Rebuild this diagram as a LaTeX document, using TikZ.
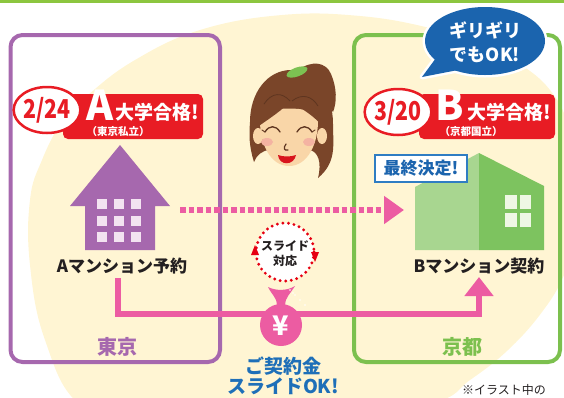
\documentclass[tikz,border=0pt]{standalone}
\usepackage{fontspec}
\setmainfont{Noto Sans CJK JP}
\usepackage{graphicx}
\usetikzlibrary{arrows.meta,shapes.geometric}

\definecolor{cream}{HTML}{FFF5D3}
\definecolor{lav}{HTML}{A668AE}
\definecolor{leaf}{HTML}{7CC04E}
\definecolor{topgreen}{HTML}{8CC63F}
\definecolor{redlab}{HTML}{E81C24}
\definecolor{rose}{HTML}{EC5CA2}
\definecolor{navy}{HTML}{1B64AE}
\definecolor{bluetext}{HTML}{1E6FB8}
\definecolor{boxblue}{HTML}{2F7DC3}
\definecolor{lightface}{HTML}{A8D690}
\definecolor{darkface}{HTML}{7DC35F}
\definecolor{glass}{HTML}{EEF7E4}
\definecolor{pane}{HTML}{F3E3F1}
\definecolor{hair}{HTML}{7A4529}
\definecolor{hairdark}{HTML}{5E3520}
\definecolor{skin}{HTML}{F9D6A8}
\definecolor{blush}{HTML}{F4B3A2}
\definecolor{lip}{HTML}{D8141C}
\definecolor{dotred}{HTML}{E60012}
\definecolor{ink}{HTML}{231F20}
\definecolor{scrunchie}{HTML}{7CC152}

\newcommand\jsize[1]{\fontsize{#1}{#1}\selectfont}

\tikzset{
  region/.style={line width=4pt, rounded corners=12pt},
  plain/.style={inner sep=0pt, outer sep=0pt},
  whitetxt/.style={plain, text=white},
  redband/.style={fill=redlab, rounded corners=5pt, minimum width=140pt, minimum height=45pt, plain},
  dateoval/.style={ellipse, draw=redlab, line width=2.5pt, fill=white, text=redlab,
                   minimum width=64pt, minimum height=46pt, inner sep=0pt},
  roomtxt/.style={plain, text=ink, font=\bfseries\jsize{17}},
  flow/.style={rose, line width=6pt},
}

\begin{document}
\begin{tikzpicture}[x=1pt, y=-1pt, font=\bfseries]
\useasboundingbox (0,0) rectangle (564,397);
\clip (0,0) rectangle (564,397);

% soft cream backdrop
\fill[cream] plot[smooth cycle, tension=0.7] coordinates {
  (282,15) (360,16) (430,28) (485,45) (520,64) (550,90) (568,125) (578,180)
  (575,235) (564,275) (542,312) (508,350) (470,380) (430,405) (300,440)
  (150,430) (80,405) (45,340) (30,265) (30,200) (42,160) (62,122) (88,95)
  (135,60) (200,30)};

% top rule
\fill[topgreen] (0,0) rectangle (564,3);

% city frames
\draw[region, lav] (10.5,35) rectangle (220,362);
\draw[region, leaf] (354,35) rectangle (560,362);
\node[plain, text=lav, font=\bfseries\jsize{20}] (tokyo) at (117,347) {東京};
\node[plain, text=leaf, font=\bfseries\jsize{20}] (kyoto) at (462,347) {京都};

% house A
\fill[lav] (120,145) -- (170,206) -- (155,206) -- (155,250) -- (85,250) -- (85,206) -- (70,206) -- cycle;
\foreach \cx in {97,114,131}
  \foreach \cy in {199,216,232}
    \fill[pane] (\cx,\cy) rectangle +(9.5,9.5);
\node[roomtxt] (amt) at (122,266) {Aマンション予約};

% building B
\fill[lightface] (415,187) -- (479,153) -- (479,250) -- (415,250) -- cycle;
\fill[darkface] (479,153) -- (544,186) -- (544,250) -- (479,250) -- cycle;
\foreach \cx/\w in {505/12,520/11}
  \foreach \cy/\h in {195/14,213/14}
    \fill[glass] (\cx,\cy) rectangle +(\w,\h);
\node[plain, draw=boxblue, line width=2pt, fill=white, text=navy,
      minimum width=92pt, minimum height=27pt, font=\bfseries\jsize{17}] (final) at (421,168.5) {最終決定!};
\node[roomtxt] (bmt) at (479,266) {Bマンション契約};

% result band A
\node[redband] (bandA) at (133,116.5) {};
\node[whitetxt, font=\bfseries\jsize{41}] (letA) at (100,105) {A};
\node[whitetxt, font=\bfseries\jsize{19}] (passA) at (157,112) {大学合格!};
\node[whitetxt, font=\bfseries\jsize{10.5}] (kindA) at (118,132) {（東京私立）};
\node[dateoval, font=\bfseries\jsize{26}] (dateA) at (47,110) {\scalebox{0.82}[1]{2/24}};

% result band B
\node[redband, minimum width=136pt] (bandB) at (487,116.5) {};
\node[whitetxt, font=\bfseries\jsize{41}] (letB) at (450,105) {B};
\node[whitetxt, font=\bfseries\jsize{19}] (passB) at (509,112) {大学合格!};
\node[whitetxt, font=\bfseries\jsize{10.5}] (kindB) at (471,132) {（京都国立）};
\node[dateoval, font=\bfseries\jsize{26}] (dateB) at (398,112) {\scalebox{0.82}[1]{3/20}};

% dotted move arrow A -> B
\coordinate (dA) at (180,210);
\coordinate (dB) at (404,210);
\draw[flow, dash pattern=on 5.5pt off 3pt, -{Triangle[width=27pt,length=20pt]}] (dA) -- (dB);

% deposit transfer line
\coordinate (sA) at (118,278);
\coordinate (hz) at (281,314);
\coordinate (tB) at (479,277);
\draw[flow, -{Triangle[width=28pt,length=19pt]}] (sA) |- (hz) -| (tB);

% slide badge
\draw[dotred, line width=3.2pt, dash pattern=on 0pt off 5.6pt, line cap=round, fill=white]
  (285,252) circle [radius=29];
\fill[dotred] (251,255) -- (259,255) -- (255,245) -- cycle;
\fill[dotred] (311,252) -- (319,252) -- (315,262) -- cycle;
\node[plain, text=ink, font=\bfseries\jsize{12}] (sl1) at (285,246) {スライド};
\node[plain, text=ink, font=\bfseries\jsize{12}] (sl2) at (285,261) {対応};

% money bag
\fill[rose] (268,287) .. controls (272,295) and (277,298) .. (277,305) -- (285,305)
  .. controls (285,298) and (290,294) .. (295,286) .. controls (287,291) and (276,291) .. (268,287) -- cycle;
\fill[rose] (281,325) circle [radius=21];
\node[whitetxt, font=\bfseries\jsize{27}] (yen) at (281,326) {¥};
\node[plain, text=bluetext, font=\bfseries\jsize{19}] (dep1) at (283,366) {ご契約金};
\node[plain, text=bluetext, font=\bfseries\jsize{19}] (dep2) at (283,386) {スライドOK!};

% speech bubble
\draw[white, line width=5pt] (485,41) ellipse [x radius=60, y radius=34];
\draw[white, line width=5pt, line join=round] (436,58) -- (422,77) -- (458,70) -- cycle;
\fill[navy] (485,41) ellipse [x radius=60, y radius=34];
\fill[navy] (436,58) -- (422,77) -- (458,70) -- cycle;
\node[whitetxt, font=\bfseries\jsize{18}] (bub1) at (485,30) {ギリギリ};
\node[whitetxt, font=\bfseries\jsize{18}] (bub2) at (485,55) {でもOK!};

% student: ponytail and back hair
\fill[hair] (298,70) .. controls (312,60) and (326,62) .. (331,74) .. controls (337,88) and (337,102) .. (333,112) -- (316,88) -- cycle;
\fill[hair] (291,70) .. controls (316,70) and (333,93) .. (333,124) .. controls (333,145) and (337,162) .. (318,178)
  .. controls (322,162) and (318,152) .. (310,150) -- (270,150) .. controls (262,150) and (256,156) .. (254,162)
  .. controls (249,146) and (249,135) .. (250,122) .. controls (250,92) and (268,70) .. (291,70) -- cycle;
% ears and face
\fill[skin] (258,136) ellipse [x radius=5, y radius=8];
\fill[skin] (322,136) ellipse [x radius=5, y radius=8];
\fill[skin] (260,116) .. controls (259,145) and (271,166) .. (289,166) .. controls (307,166) and (319,145) .. (318,116)
  .. controls (312,106) and (266,106) .. (260,116) -- cycle;
% bangs
\fill[hair] (256,128) .. controls (254,100) and (270,80) .. (290,80) .. controls (310,80) and (326,100) .. (324,128)
  .. controls (314,115) and (300,108) .. (290,101) .. controls (283,110) and (270,118) .. (256,128) -- cycle;
\draw[hairdark, line width=0.8pt] (290,101) .. controls (282,92) and (272,92) .. (264,104);
\draw[hairdark, line width=0.8pt] (292,101) .. controls (302,93) and (312,96) .. (318,106);
% features
\fill[blush] (267,142) ellipse [x radius=6, y radius=4];
\fill[blush] (309,142) ellipse [x radius=6, y radius=4];
\draw[hairdark, line width=1.3pt, line cap=round] (265,132) .. controls (269,125) and (276,125) .. (280,132);
\draw[hairdark, line width=1.3pt, line cap=round] (297,132) .. controls (301,125) and (308,125) .. (312,132);
\draw[hairdark, line width=0.9pt, line cap=round] (265,132) -- (262,130) (312,132) -- (315,130);
\draw[hairdark, line width=1.2pt, line cap=round] (286,144) .. controls (283,148) and (284,151) .. (288,150);
\fill[lip] (278,155) .. controls (279,166) and (294,166) .. (296,155) .. controls (290,157) and (284,157) .. (278,155) -- cycle;
% hair tie
\fill[scrunchie, rotate around={20:(297,72)}] (297,72) ellipse [x radius=11, y radius=4.5];
\foreach \px/\py in {290,74, 295,70, 300,73, 305,68, 293,77}
  \fill[white] (\px,\py) circle [radius=0.9];

% footnote
\node[anchor=base west, plain, text=ink, font=\mdseries\jsize{12}] (note) at (462,394.5) {※イラスト中の};
\end{tikzpicture}
\end{document}
